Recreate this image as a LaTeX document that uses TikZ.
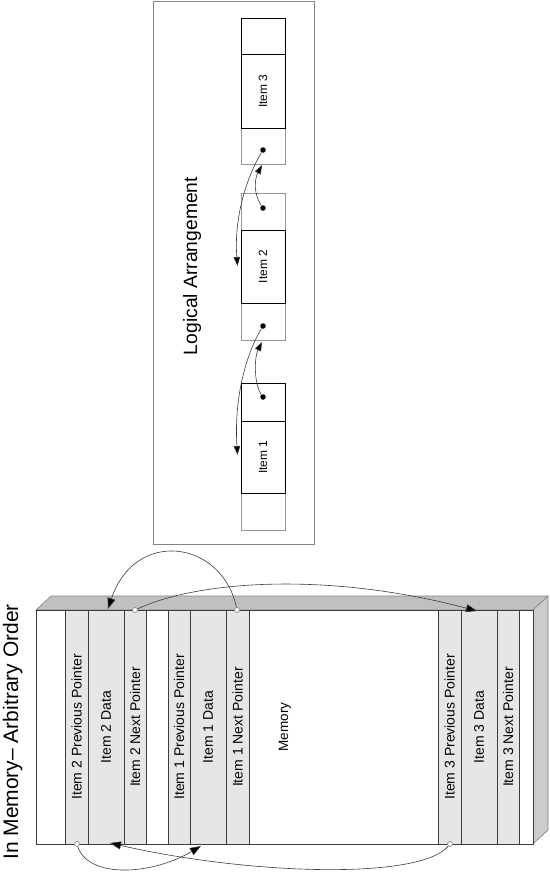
\documentclass[tikz,border=0pt]{standalone}
\usepackage{fontspec}
\setmainfont{Liberation Sans}
\usetikzlibrary{arrows.meta}
\definecolor{colgray}{RGB}{230,230,230}
\definecolor{topgray}{RGB}{192,192,192}
\definecolor{sidegray}{RGB}{204,204,204}
\definecolor{linegray}{RGB}{60,60,60}
\definecolor{cellgray}{RGB}{150,150,150}
\definecolor{edgegray}{RGB}{130,130,130}
\begin{document}
\begin{tikzpicture}[x=1pt,y=-1pt,
  col/.style={draw=linegray, line width=0.8pt, fill=colgray, rotate=90,
    minimum width=234pt, minimum height=#1, inner sep=0pt,
    font=\fontsize{14}{16}\selectfont},
  lightcell/.style={draw=cellgray, line width=0.8pt, fill=white, minimum width=44pt,
    minimum height=#1, inner sep=0pt},
  darkcell/.style={draw=black, line width=0.8pt, minimum width=44pt,
    minimum height=#1, inner sep=0pt},
  datacell/.style={draw=black, line width=0.8pt, fill=white, minimum width=44pt,
    minimum height=#1, inner sep=0pt},
  itemlbl/.style={rotate=90, font=\fontsize{12}{14}\selectfont},
  dotnode/.style={circle, fill=black, minimum size=5.5pt, inner sep=0pt},
  ringnode/.style={circle, draw=edgegray, fill=white, line width=0.6pt, minimum size=5pt, inner sep=0pt},
  larrow/.style={draw=linegray, line width=0.6pt, -{Triangle[length=9pt,width=6.5pt,fill=black]}},
  marrow/.style={draw=linegray, line width=0.6pt, -{Triangle[length=11pt,width=8pt,fill=black]}}
]
\useasboundingbox (0,0) rectangle (549,872);

% ---------------- Logical arrangement ----------------
\node[draw=edgegray, line width=0.8pt, minimum width=161pt, minimum height=543pt, inner sep=0pt] (logic) at (233.5,272.5) {};
\node[rotate=90, anchor=base, font=\fontsize{19.3}{22}\selectfont] (ltitle) at (197,266) {Logical Arrangement};

% item 3
\node[lightcell=36pt] (i3bot) at (263,146) {};
\node[darkcell=36pt] (i3top) at (263,36) {};
\node[datacell=74pt] (i3data) at (263,91) {};
\node[itemlbl] (i3lbl) at (i3data.center) {Item 3};
% item 2
\node[lightcell=37pt] (i2top) at (263,211.5) {};
\node[lightcell=37pt] (i2bot) at (263,321.5) {};
\node[datacell=73pt] (i2data) at (263,266.5) {};
\node[itemlbl] (i2lbl) at (i2data.center) {Item 2};
% item 1
\node[lightcell=37pt] (i1bot) at (263,511.5) {};
\node[darkcell=38pt] (i1top) at (263,402) {};
\node[datacell=72pt] (i1data) at (263,457) {};
\node[itemlbl] (i1lbl) at (i1data.center) {Item 1};

% pointer dots
\node[dotnode] (d3) at (263,150) {};
\node[dotnode] (d2a) at (263,208) {};
\node[dotnode] (d2b) at (263,326) {};
\node[dotnode] (d1) at (263,397) {};
\coordinate (tA) at (237.5,266);
\coordinate (tB) at (262,165);
\coordinate (tC) at (237.5,455);
\coordinate (tD) at (262,342);

\draw[larrow] (d3) .. controls (245,180) and (234,220) .. (tA);
\draw[larrow] (d2a) .. controls (254,195) and (254,180) .. (tB);
\draw[larrow] (d2b) .. controls (245,356) and (234,400) .. (tC);
\draw[larrow] (d1) .. controls (254,384) and (254,358) .. (tD);

% ---------------- Memory ----------------
\node[rotate=90, anchor=base, font=\fontsize{21}{24}\selectfont] (mtitle) at (18,732) {In Memory– Arbitrary Order};

\filldraw[fill=topgray, draw=edgegray, line width=0.6pt] (36,610) -- (51,596) -- (548,596) -- (533,610) -- cycle;
\filldraw[fill=sidegray, draw=edgegray, line width=0.6pt] (533,610) -- (548,596) -- (548,830) -- (533,844) -- cycle;
\node[draw=linegray, fill=white, line width=0.8pt, minimum width=497pt, minimum height=234pt, inner sep=0pt] (front) at (284.5,727) {};

\node[col=23pt] (c1) at (76.5,727) {Item 2 Previous Pointer};
\node[col=36pt] (c2) at (106,727) {Item 2 Data};
\node[col=22pt] (c3) at (135,727) {Item 2 Next Pointer};
\node[col=22pt] (c4) at (179,727) {Item 1 Previous Pointer};
\node[col=36pt] (c5) at (208,727) {Item 1 Data};
\node[col=23pt] (c6) at (237.5,727) {Item 1 Next Pointer};
\node[col=23pt] (c7) at (449.5,727) {Item 3 Previous Pointer};
\node[col=36pt] (c8) at (479,727) {Item 3 Data};
\node[col=22pt] (c9) at (508,727) {Item 3 Next Pointer};
\node[rotate=90, font=\fontsize{13.5}{16}\selectfont] (memlbl) at (285,727) {Memory};

\node[ringnode] (r2next) at (135,610) {};
\node[ringnode] (r1next) at (237,610) {};
\node[ringnode] (r2prev) at (77,844) {};
\node[ringnode] (r3prev) at (450,844) {};
\coordinate (m2top) at (108,609);
\coordinate (m3top) at (477,611);
\coordinate (m1bot) at (201,846);
\coordinate (m2bot) at (110,843);

\draw[marrow] (r1next) .. controls (222,540) and (135,528) .. (m2top);
\draw[marrow] (r2next) .. controls (200,580) and (330,572) .. (m3top);
\draw[marrow] (r2prev) .. controls (88,878) and (150,876) .. (m1bot);
\draw[marrow] (r3prev) .. controls (420,880) and (250,875) .. (m2bot);
\end{tikzpicture}
\end{document}
